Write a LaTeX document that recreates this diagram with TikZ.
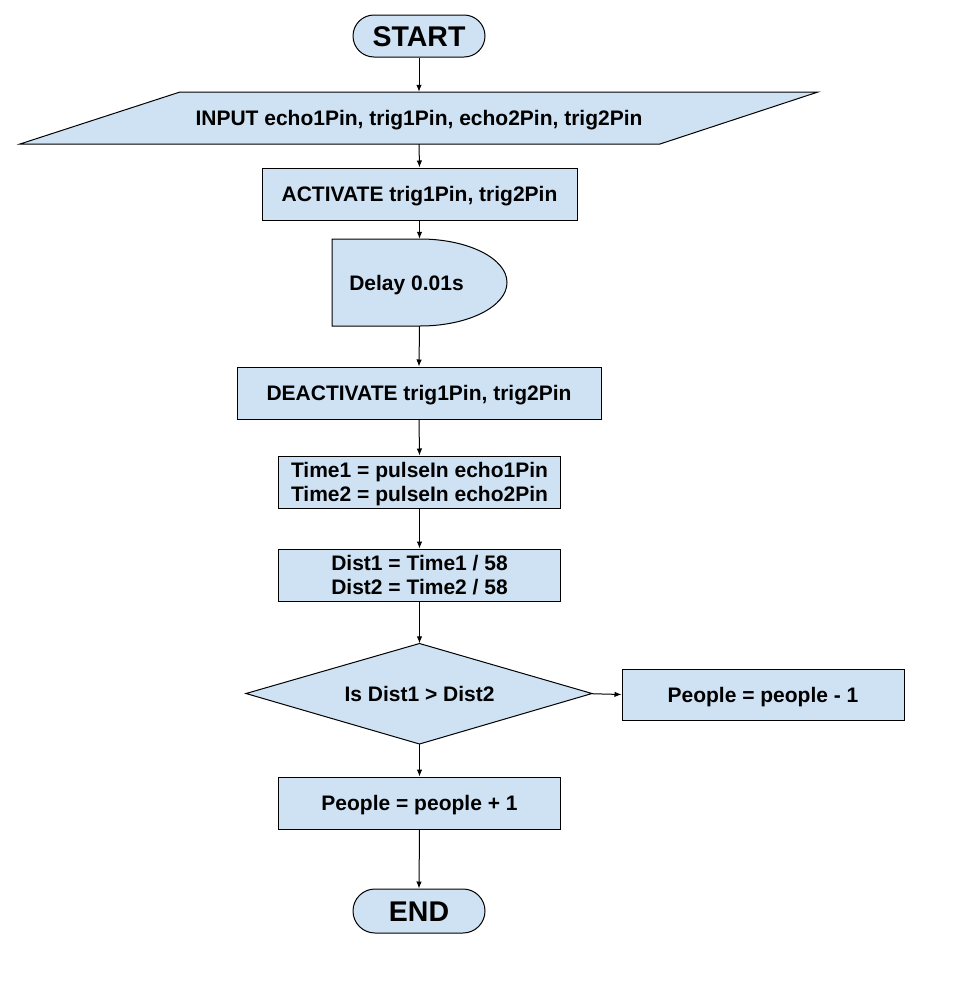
\documentclass[tikz,border=0pt]{standalone}
\usepackage{fontspec}
\setmainfont{Liberation Sans}
\usetikzlibrary{arrows.meta,shapes.geometric}
\definecolor{boxfill}{HTML}{CFE2F3}
\tikzset{
  txt/.style={inner sep=0pt,align=center,font=\fontsize{21}{24.5}\selectfont\bfseries,
    text height=15.1pt,text depth=0pt},
  twoline/.style={text height=39.6pt,text depth=0pt},
  base/.style={txt,draw=black,line width=1pt,fill=boxfill},
  procbox/.style={base,rectangle},
  termbox/.style={base,rectangle,rounded corners=21pt,font=\fontsize{28.5}{30}\selectfont\bfseries,
    text height=20.4pt},
  conn/.style={line width=1pt,-{Latex[length=7pt,width=5.5pt]}},
}
\begin{document}
\begin{tikzpicture}[x=1pt,y=-1pt]
\useasboundingbox (0,0) rectangle (975,1002);
% START
\node[termbox,minimum width=132pt,minimum height=42pt] (start) at (419,36) {START};
% INPUT parallelogram
\draw[line width=1pt,fill=boxfill] (20,144) -- (180,92) -- (818,92) -- (660,144) -- cycle;
\node[txt,minimum width=480pt,minimum height=52pt] (input) at (419,118) {INPUT echo1Pin, trig1Pin, echo2Pin, trig2Pin};
% ACTIVATE
\node[procbox,minimum width=315pt,minimum height=52pt] (act) at (419.5,194) {ACTIVATE trig1Pin, trig2Pin};
% Delay
\draw[line width=1pt,fill=boxfill] (332,239) -- (420,239) arc[start angle=-90,end angle=90,x radius=87pt,y radius=-43.5pt] -- (332,326) -- cycle;
\node[txt,minimum width=175pt,minimum height=87pt,
  label={[txt,xshift=-13pt]center:Delay 0.01s}] (delay) at (419.5,282.5) {};
% DEACTIVATE
\node[procbox,minimum width=364pt,minimum height=52pt] (deact) at (419,393) {DEACTIVATE trig1Pin, trig2Pin};
% Time
\node[procbox,twoline,minimum width=282pt,minimum height=52pt] (time) at (419.5,482) {Time1 = pulseIn echo1Pin\\Time2 = pulseIn echo2Pin};
% Dist
\node[procbox,twoline,minimum width=282pt,minimum height=52pt] (dist) at (419.5,575) {Dist1 = Time1 / 58\\Dist2 = Time2 / 58};
% Decision
\draw[line width=1pt,fill=boxfill] (246,693.5) -- (419.5,643.5) -- (592,693.5) -- (419.5,744) -- cycle;
\node[txt,minimum width=346pt,minimum height=100.5pt] (dec) at (419.5,693.75) {Is Dist1 > Dist2};
% People - 1
\node[procbox,minimum width=282pt,minimum height=51pt] (minus) at (763,694.5) {People = people - 1};
% People + 1
\node[procbox,minimum width=282pt,minimum height=52pt] (plus) at (419.5,803) {People = people + 1};
% END
\node[termbox,minimum width=132pt,minimum height=44pt,rounded corners=22pt] (end) at (419,911) {END};
% connectors
\draw[conn] (start.south) -- (start.south |- input.north);
\draw[conn] (input.south) -- (act.north);
\draw[conn] (act.south) -- (delay.north);
\draw[conn] (delay.south) -- (deact.north);
\draw[conn] (deact.south) -- (time.north);
\draw[conn] (time.south) -- (dist.north);
\draw[conn] (dist.south) -- (dec.north);
\draw[conn] (dec.south) -- (plus.north);
\draw[conn] (dec.east) -- (minus.west);
\draw[conn] (plus.south) -- (end.north);
\end{tikzpicture}
\end{document}
